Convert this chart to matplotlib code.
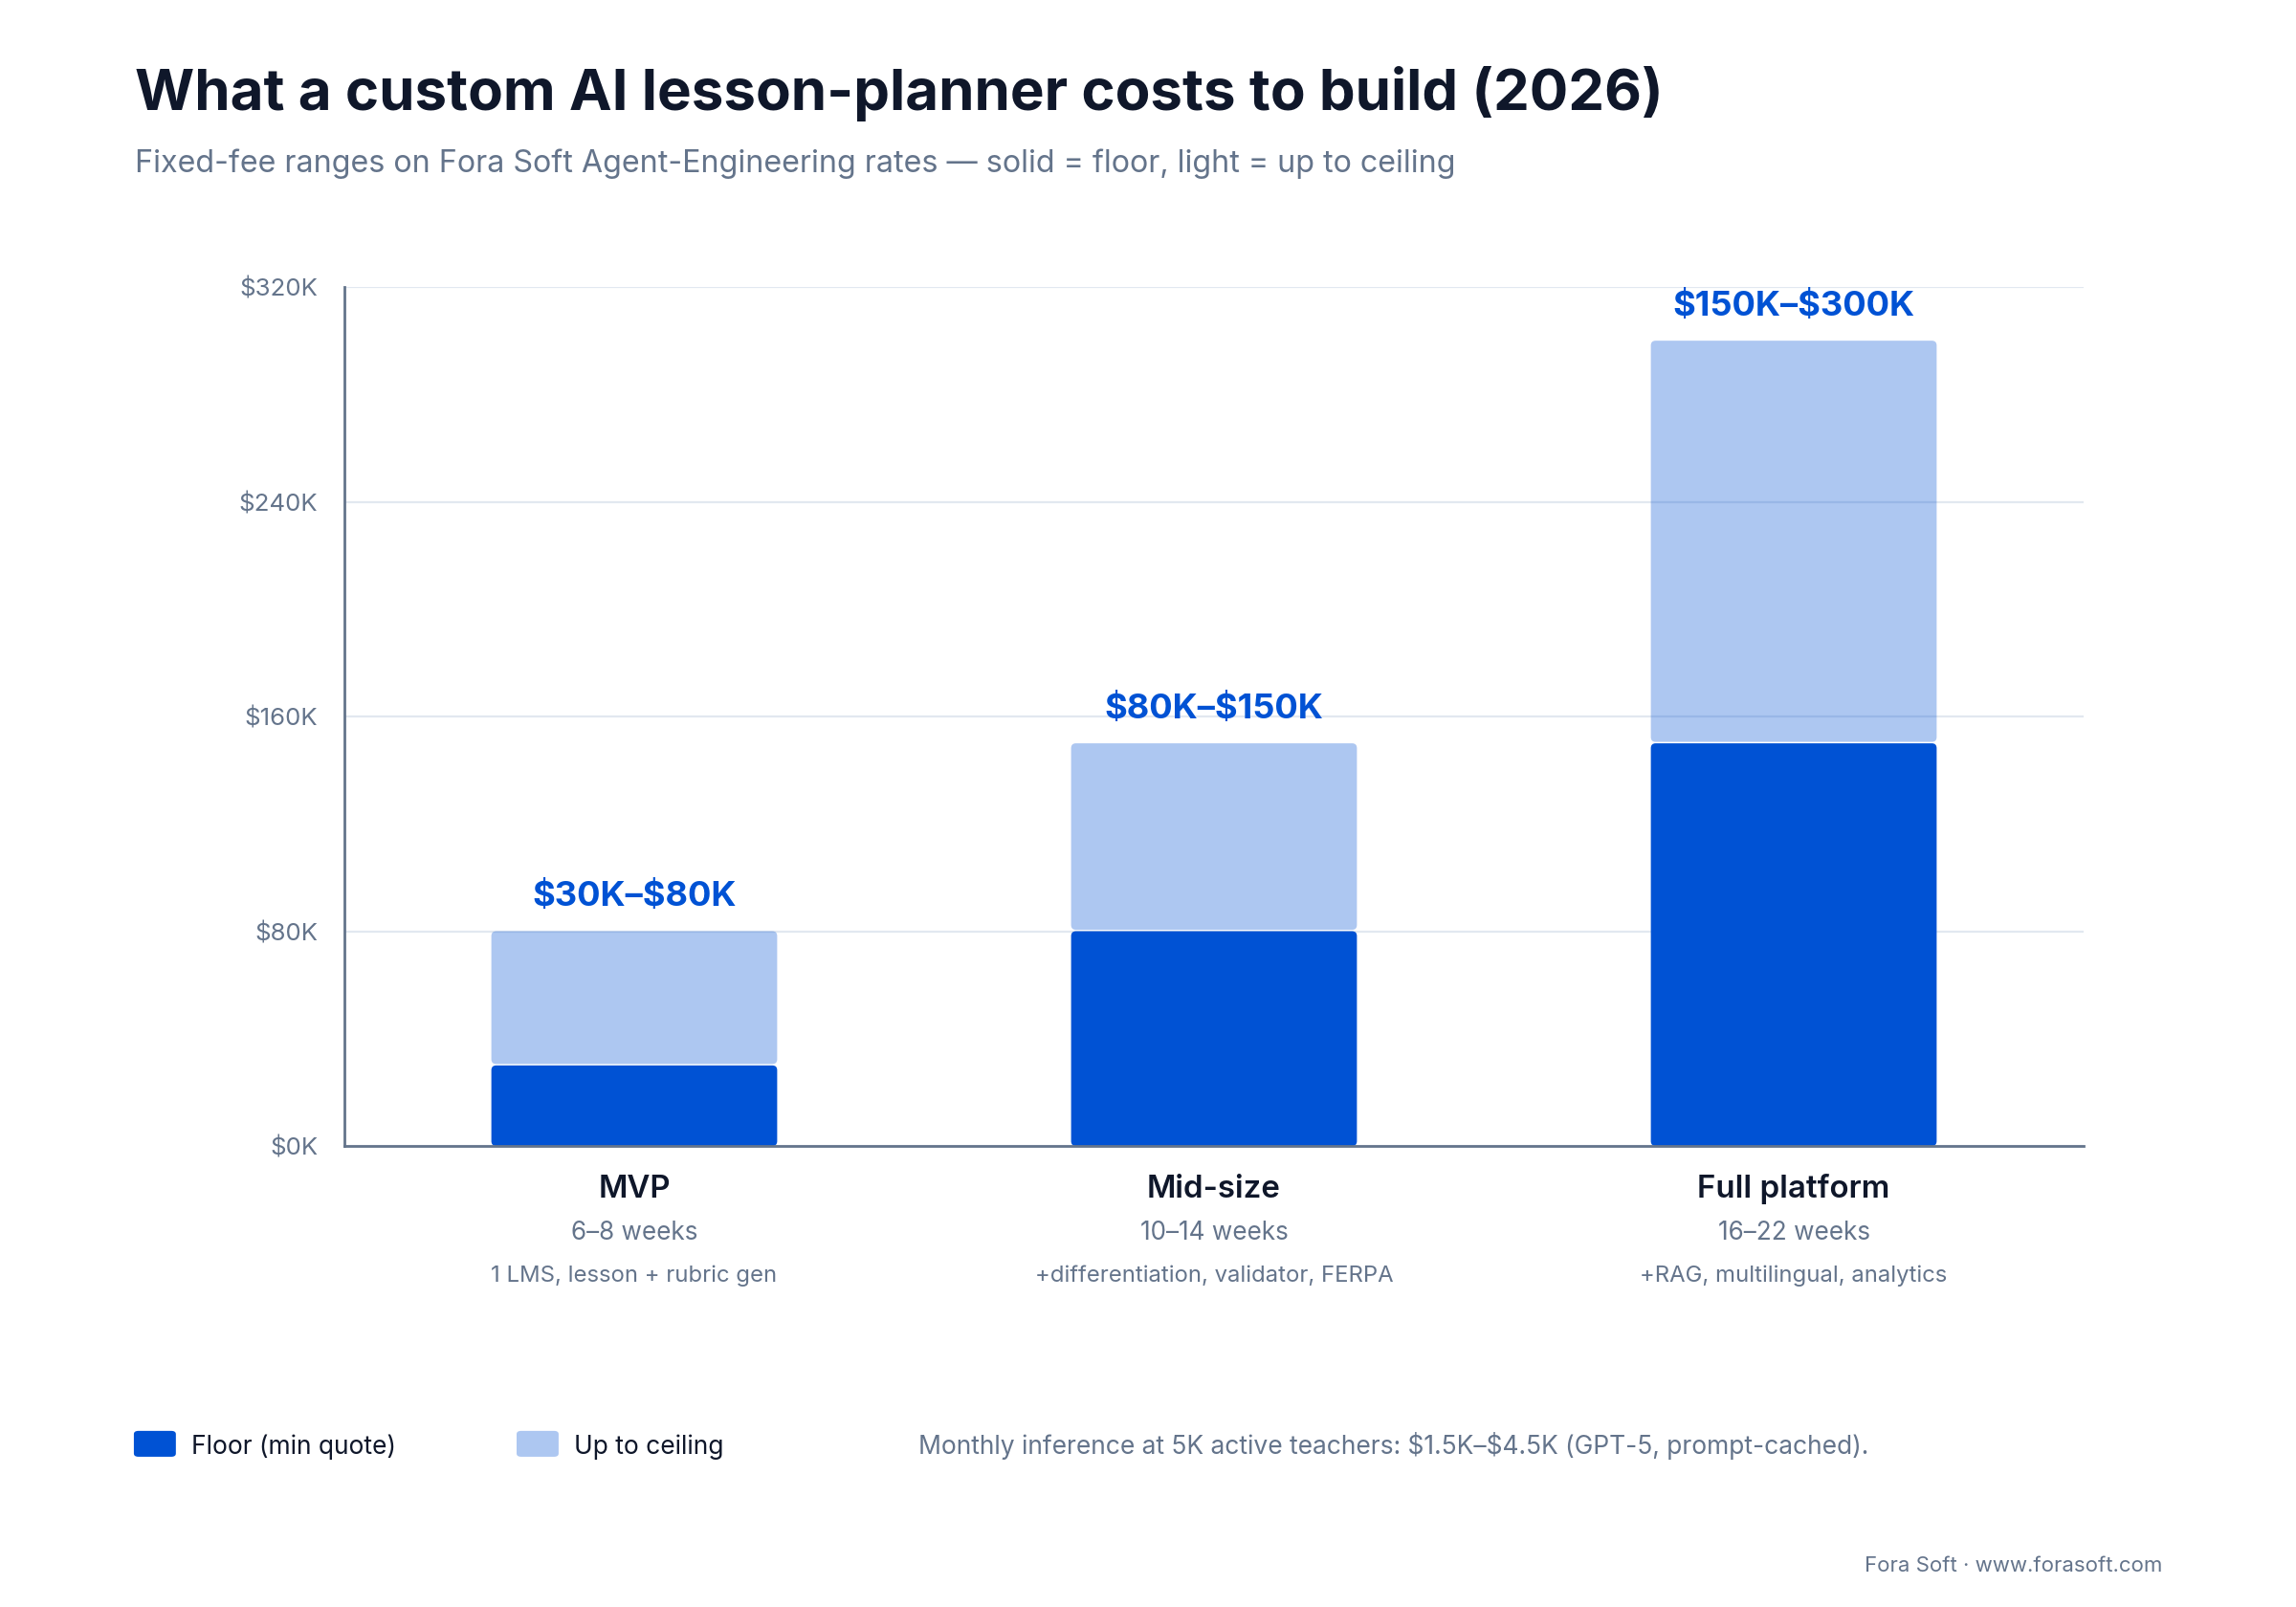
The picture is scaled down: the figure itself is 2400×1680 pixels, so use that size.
import matplotlib
matplotlib.use("Agg")
import matplotlib.pyplot as plt
from matplotlib.patches import FancyBboxPatch
from matplotlib.ticker import FuncFormatter
import matplotlib.transforms as mtransforms
import numpy as np

plt.rcParams['font.family'] = ['Inter', 'DejaVu Sans']
plt.rcParams['text.parse_math'] = False  # dollar signs are literal here

# data
tiers = ["MVP", "Mid-size", "Full platform"]
durations = ["6\u20138 weeks", "10\u201314 weeks", "16\u201322 weeks"]
features = ["1 LMS, lesson + rubric gen", "+differentiation, validator, FERPA", "+RAG, multilingual, analytics"]
floor_k = [30, 80, 150]
ceiling_k = [80, 150, 300]
range_labels = ["$30K\u2013$80K", "$80K\u2013$150K", "$150K\u2013$300K"]
yticks_k = [0, 80, 160, 240, 320]

blue = "#0052D4"
dark = "#0F172A"
slate = "#64748B"
grid_c = "#E2E8F0"

fig = plt.figure(figsize=(12, 8.4), dpi=200, facecolor="white")
ax = fig.add_axes([0.15, 0.2869, 0.7575, 0.5345])

x = np.arange(len(tiers))
floor = np.array(floor_k) * 1000
ceiling = np.array(ceiling_k) * 1000
width = 0.493

ax.set_xlim(-0.5, 2.5)
ax.set_ylim(0, 320000)

dark_bars = ax.bar(x, floor, width, color=blue, zorder=3)
light_bars = ax.bar(x, ceiling - floor, width, bottom=floor, color=blue, alpha=0.32, zorder=3)

# swap plain rectangles for rounded ones (radius ~5px)
fig.canvas.draw()
bb = ax.get_window_extent()
xpp = 3.0 / bb.width
ypp = 320000 / bb.height
for bars in (dark_bars, light_bars):
    for r in bars:
        x0, y0 = r.get_x(), r.get_y()
        w, h = r.get_width(), r.get_height()
        if bars is light_bars:
            y0 += 1.5 * ypp
            h -= 1.5 * ypp
        p = FancyBboxPatch((x0, y0), w, h,
                           boxstyle="round,pad=0,rounding_size=%f" % (5 * xpp),
                           mutation_aspect=ypp / xpp,
                           facecolor=r.get_facecolor(), edgecolor="none", zorder=3)
        ax.add_patch(p)
        r.remove()

for i in range(len(tiers)):
    ax.annotate(range_labels[i], (x[i], ceiling[i]), xytext=(0, 12.8), textcoords="offset points",
                ha="center", va="center", fontsize=13.05, fontweight="bold", color=blue)

ax.set_yticks(np.array(yticks_k) * 1000)
ax.yaxis.set_major_formatter(FuncFormatter(lambda v, p: "$%dK" % (v / 1000)))
ax.tick_params(axis="y", length=0, pad=10, labelsize=9.3, labelcolor=slate)
ax.set_xticks([])
ax.grid(axis="y", color=grid_c, linewidth=0.8, zorder=0)
ax.set_axisbelow(True)
for s in ["top", "right"]:
    ax.spines[s].set_visible(False)
for s in ["left", "bottom"]:
    ax.spines[s].set_color(slate)
    ax.spines[s].set_linewidth(1.0)
ax.spines["bottom"].set_zorder(4)

# category labels under the axis
trans = mtransforms.blended_transform_factory(ax.transData, fig.transFigure)
for i in range(len(tiers)):
    ax.text(x[i], 0.2548, tiers[i], transform=trans, ha="center", va="baseline",
            fontsize=11.9, fontweight="semibold", color=dark)
    ax.text(x[i], 0.2286, durations[i], transform=trans, ha="center", va="baseline",
            fontsize=9.4, color=slate)
    ax.text(x[i], 0.2024, features[i], transform=trans, ha="center", va="baseline",
            fontsize=8.6, color=slate)

# titles
fig.text(0.0588, 0.9316, "What a custom AI lesson-planner costs to build (2026)",
         fontsize=21.6, fontweight="bold", color=dark, va="baseline")
fig.text(0.0588, 0.8929, "Fixed-fee ranges on Fora Soft Agent-Engineering rates \u2014 solid = floor, light = up to ceiling",
         fontsize=11.6, color=slate, va="baseline")

# legend
for lx, a in [(0.0583, 1.0), (0.225, 0.32)]:
    fig.patches.append(FancyBboxPatch((lx, 0.0935), 0.0183, 0.0161,
                                      boxstyle="round,pad=0,rounding_size=0.002",
                                      transform=fig.transFigure, facecolor=blue, alpha=a,
                                      edgecolor="none"))
fig.text(0.0833, 0.0952, "Floor (min quote)", fontsize=9.5, color=dark, va="baseline")
fig.text(0.25, 0.0952, "Up to ceiling", fontsize=9.5, color=dark, va="baseline")
fig.text(0.40, 0.0952, "Monthly inference at 5K active teachers: $1.5K\u2013$4.5K (GPT-5, prompt-cached).",
         fontsize=9.5, color=slate, va="baseline")
fig.text(0.9417, 0.022, "Fora Soft \u00b7 www.forasoft.com", fontsize=8.0, color=slate,
         ha="right", va="baseline")

fig.savefig("out.png", dpi=200, facecolor="white")
